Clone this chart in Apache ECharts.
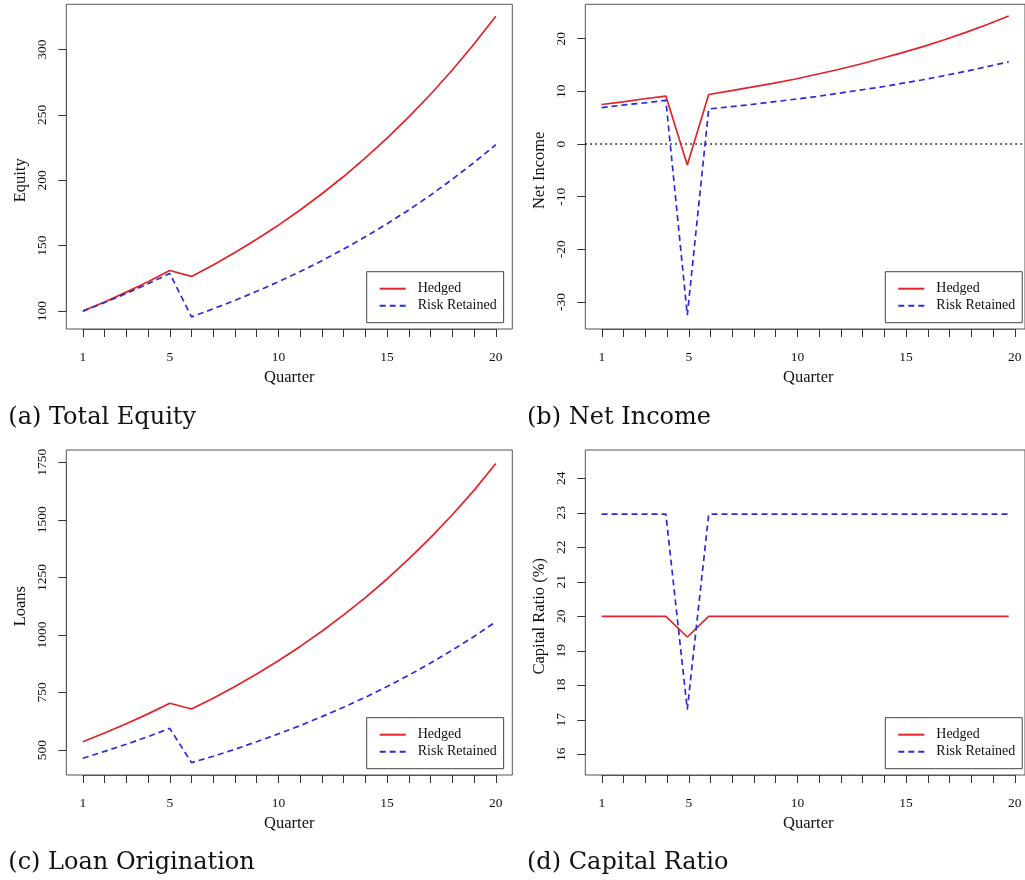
<!DOCTYPE html>
<html>
<head>
<meta charset="utf-8">
<script src="https://cdn.jsdelivr.net/npm/echarts@6/dist/echarts.min.js"></script>
<style>
html,body{margin:0;padding:0;background:#fff;}
#chart{width:1025px;height:880px;}
</style>
</head>
<body>
<div id="chart"></div>
<script>
// ---- data ----
const quarters = [1,2,3,4,5,6,7,8,9,10,11,12,13,14,15,16,17,18,19,20];
const xTickLabels = [1,5,10,15,20];
const seriesNames = ['Hedged','Risk Retained'];

const equityHedged   = [100,107.0,114.5,122.5,131.0,126.5,135.3,144.8,154.9,165.7,177.3,189.7,202.9,217.1,232.3,248.5,265.8,284.4,304.3,325.5];
const equityRetained = [100,106.5,113.5,120.9,128.8,95.6,101.7,108.2,115.1,122.4,130.2,138.5,147.4,156.8,166.8,177.4,188.7,200.8,213.6,227.2];

const netIncomeHedged   = [7.5,8.0,8.6,9.1,-4.0,9.4,10.1,10.8,11.5,12.3,13.2,14.1,15.1,16.2,17.3,18.5,19.8,21.2,22.7,24.3];
const netIncomeRetained = [6.9,7.4,7.8,8.3,-32.5,6.65,7.07,7.5,8.0,8.5,9.0,9.6,10.2,10.8,11.5,12.2,13.0,13.8,14.7,15.6];

const loansHedged   = [536,574,614,657,703,678,725,776,830,888,950,1016,1087,1162,1243,1330,1423,1522,1628,1745];
const loansRetained = [464,494,525,558,594,445,473,503,536,570,606,645,686,729,776,825,878,934,993,1057];

const capRatioHedged   = [20,20,20,20,19.4,20,20,20,20,20,20,20,20,20,20,20,20,20,20,20];
const capRatioRetained = [22.96,22.96,22.96,22.96,17.3,22.96,22.96,22.96,22.96,22.96,22.96,22.96,22.96,22.96,22.96,22.96,22.96,22.96,22.96,22.96];

const equityTicks    = {min:100, max:300, step:50};
const netIncomeTicks = {min:-30, max:20, step:10};
const loansTicks     = {min:500, max:1750, step:250};
const capRatioTicks  = {min:16, max:24, step:1};

// ---- layout ----
const RED = '#e3222a', BLUE = '#2b2bdc', INK = '#111', FRAME = '#555';
const SERIF = "'Liberation Serif', 'Times New Roman', serif";
const XR = [0.24, 20.76];

const panels = [
  {box:[66.3,4.3,446,324.7], yr:[86.3,334.6], ticks:equityTicks, name:'Equity', h:equityHedged, r:equityRetained, leg:[366.7,271.7], cap:'(a) Total Equity', capPos:[8.3,405.5]},
  {box:[585.3,4.3,446,324.7], yr:[-35.13,26.53], ticks:netIncomeTicks, name:'Net Income', h:netIncomeHedged, r:netIncomeRetained, leg:[885.3,271.7], cap:'(b) Net Income', capPos:[527,405.5], zero:true},
  {box:[66.3,450,446,325], yr:[391.4,1803.4], ticks:loansTicks, name:'Loans', h:loansHedged, r:loansRetained, leg:[366.7,717.7], cap:'(c) Loan Origination', capPos:[8.3,851]},
  {box:[585.3,450,446,325], yr:[15.4,24.82], ticks:capRatioTicks, name:'Capital Ratio (%)', h:capRatioHedged, r:capRatioRetained, leg:[885.3,717.7], cap:'(d) Capital Ratio', capPos:[527,851]}
];

const grid = [], xAxis = [], yAxis = [], series = [], legend = [], title = [];

panels.forEach((p, i) => {
  const [bl, bt, bw, bh] = p.box;
  const xs = v => bl + (v - XR[0]) / (XR[1] - XR[0]) * bw;
  const ys = v => bt + (p.yr[1] - v) / (p.yr[1] - p.yr[0]) * bh;
  const g0 = i * 2, g1 = i * 2 + 1;
  // frame grid (holds data)
  grid.push({left: bl, top: bt, width: bw, height: bh, show: true, borderColor: FRAME, borderWidth: 1, backgroundColor: 'transparent'});
  xAxis.push({gridIndex: g0, type: 'value', min: XR[0], max: XR[1], show: false});
  yAxis.push({gridIndex: g0, type: 'value', min: p.yr[0], max: p.yr[1], show: false});
  // axis grid (ticks only)
  const gl = xs(1), gw = xs(20) - xs(1), gt = ys(p.ticks.max), gh = ys(p.ticks.min) - ys(p.ticks.max);
  grid.push({left: gl, top: gt, width: gw, height: gh, show: false});
  xAxis.push({
    gridIndex: g1, type: 'value', min: 1, max: 20, interval: 1, position: 'bottom',
    offset: (bt + bh) - (gt + gh),
    name: 'Quarter', nameLocation: 'middle', nameGap: 40,
    nameTextStyle: {fontFamily: SERIF, fontSize: 16.5, color: INK},
    axisLine: {show: true, onZero: false, lineStyle: {color: FRAME, width: 1}},
    axisTick: {show: true, length: 8, lineStyle: {color: '#333', width: 1}},
    axisLabel: {show: true, margin: 21, fontFamily: SERIF, fontSize: 13.5, color: INK,
      showMinLabel: true, showMaxLabel: true,
      formatter: v => xTickLabels.indexOf(Math.round(v)) >= 0 ? String(Math.round(v)) : ''},
    splitLine: {show: false}
  });
  yAxis.push({
    gridIndex: g1, type: 'value', min: p.ticks.min, max: p.ticks.max, interval: p.ticks.step, position: 'left',
    offset: gl - bl,
    name: p.name, nameLocation: 'middle', nameGap: 37, nameRotate: 90,
    nameTextStyle: {fontFamily: SERIF, fontSize: 16.5, color: INK},
    axisLine: {show: true, onZero: false, lineStyle: {color: FRAME, width: 1}},
    axisTick: {show: true, length: 8, lineStyle: {color: '#333', width: 1}},
    axisLabel: {show: true, rotate: 90, margin: 17, fontFamily: SERIF, fontSize: 13.5, color: INK,
      showMinLabel: true, showMaxLabel: true, formatter: v => String(v)},
    splitLine: {show: false}
  });
  if (p.zero) {
    series.push({type: 'line', name: 'zero', xAxisIndex: g0, yAxisIndex: g0, symbol: 'none', silent: true,
      data: [[XR[0], 0], [XR[1], 0]], lineStyle: {color: '#111', width: 1.6, type: [1.6, 3.4]}, z: 1});
  }
  series.push({type: 'line', name: seriesNames[0], xAxisIndex: g0, yAxisIndex: g0, symbol: 'none',
    data: quarters.map((q, k) => [q, p.h[k]]), lineStyle: {color: RED, width: 1.7}, itemStyle: {color: RED}, z: 3});
  series.push({type: 'line', name: seriesNames[1], xAxisIndex: g0, yAxisIndex: g0, symbol: 'none',
    data: quarters.map((q, k) => [q, p.r[k]]), lineStyle: {color: BLUE, width: 1.7, type: [6, 4]}, itemStyle: {color: BLUE}, z: 4});
  legend.push({
    data: seriesNames, orient: 'vertical', left: p.leg[0], top: p.leg[1],
    padding: [10, 7, 10, 12], itemGap: 3, itemWidth: 26, itemHeight: 14,
    borderColor: '#444', borderWidth: 1, borderRadius: 0, backgroundColor: '#fff',
    selectedMode: false,
    itemStyle: {color: 'transparent', borderWidth: 0, opacity: 0},
    textStyle: {fontFamily: SERIF, fontSize: 14, color: INK, padding: [0, 0, 0, 7]}
  });
  title.push({text: p.cap, left: p.capPos[0], top: p.capPos[1], padding: 0,
    textStyle: {fontFamily: "'DejaVu Serif', serif", fontSize: 24, fontWeight: 'normal', color: INK}});
});

const chart = echarts.init(document.getElementById('chart'), null, {renderer: 'canvas'});
chart.setOption({animation: false, backgroundColor: '#fff', grid, xAxis, yAxis, series, legend, title});
</script>
</body>
</html>
